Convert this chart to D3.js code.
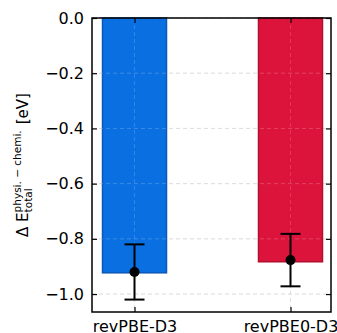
<!DOCTYPE html>
<html>
<head>
<meta charset="utf-8">
<script src="https://cdn.jsdelivr.net/npm/d3@7"></script>
<style>
  body { margin: 0; background: #fff; }
  text { font-family: "DejaVu Sans", sans-serif; }
</style>
</head>
<body>
<div id="vis"></div>
<script>
var margin = { top: 18, right: 6, bottom: 21, left: 92 },
    width = 337 - margin.left - margin.right,
    height = 333 - margin.top - margin.bottom;

const methods = ["revPBE-D3", "revPBE0-D3"];
const energies = [-0.923, -0.883];
const means = [-0.92, -0.877];
const errors = [0.10, 0.095];
const fills = ["#0a6fe0", "#dc143c"];
const edges = ["#0a58b8", "#b0102f"];
const yTicks = [0.0, -0.2, -0.4, -0.6, -0.8, -1.0];

const svg = d3.select("#vis")
    .append("svg")
    .attr("width", width + margin.left + margin.right)
    .attr("height", height + margin.top + margin.bottom)
    .append("g")
    .attr("transform", `translate(${margin.left}, ${margin.top})`);

const y = d3.scaleLinear().domain([-1.065, 0]).range([height, 0]);
const x = d3.scalePoint().domain(methods).range([42.5, 198.5]);
const barW = 64;

// grid
svg.selectAll("line.hgrid")
    .data(yTicks)
    .join("line")
    .attr("x1", 0).attr("x2", width)
    .attr("y1", d => y(d)).attr("y2", d => y(d))
    .style("stroke", "#cccccc")
    .style("stroke-dasharray", "4,3")
    .style("stroke-width", 0.8);

svg.selectAll("line.vgrid")
    .data(methods)
    .join("line")
    .attr("x1", d => x(d)).attr("x2", d => x(d))
    .attr("y1", 0).attr("y2", height)
    .style("stroke", "#cccccc")
    .style("stroke-dasharray", "4,3")
    .style("stroke-width", 0.8);

// bars
svg.selectAll("rect.bar")
    .data(methods)
    .join("rect")
    .attr("class", "bar")
    .attr("x", d => x(d) - barW / 2)
    .attr("y", y(0))
    .attr("width", barW)
    .attr("height", (d, i) => y(energies[i]) - y(0))
    .style("fill", (d, i) => fills[i])
    .style("stroke", (d, i) => edges[i])
    .style("stroke-width", 1.5);

// faint grid on top of bars
svg.selectAll("line.hgrid2")
    .data(yTicks)
    .join("line")
    .attr("x1", 0).attr("x2", width)
    .attr("y1", d => y(d)).attr("y2", d => y(d))
    .style("stroke", "rgba(255,255,255,0.25)")
    .style("stroke-dasharray", "4,3")
    .style("stroke-width", 0.8);

svg.selectAll("line.vgrid2")
    .data(methods)
    .join("line")
    .attr("x1", d => x(d)).attr("x2", d => x(d))
    .attr("y1", 0).attr("y2", height)
    .style("stroke", "rgba(255,255,255,0.2)")
    .style("stroke-dasharray", "4,3")
    .style("stroke-width", 0.8);

// error bars
const eb = svg.selectAll("g.err")
    .data(methods)
    .join("g")
    .attr("transform", d => `translate(${x(d)},0)`);

eb.append("line")
    .attr("y1", (d, i) => y(means[i] + errors[i]))
    .attr("y2", (d, i) => y(means[i] - errors[i]))
    .style("stroke", "black").style("stroke-width", 2);
eb.append("line")
    .attr("x1", -10).attr("x2", 10)
    .attr("y1", (d, i) => y(means[i] + errors[i]))
    .attr("y2", (d, i) => y(means[i] + errors[i]))
    .style("stroke", "black").style("stroke-width", 2);
eb.append("line")
    .attr("x1", -10).attr("x2", 10)
    .attr("y1", (d, i) => y(means[i] - errors[i]))
    .attr("y2", (d, i) => y(means[i] - errors[i]))
    .style("stroke", "black").style("stroke-width", 2);
eb.append("circle")
    .attr("cy", (d, i) => y(means[i]))
    .attr("r", 5)
    .style("fill", "black");

// axes with inward ticks
const fmt = d => d3.format(".1f")(d).replace("-", "\u2212");
const yLeft = svg.append("g")
    .call(d3.axisLeft(y).tickValues(yTicks).tickSizeInner(-5).tickSizeOuter(0).tickPadding(8).tickFormat(fmt));
const yRight = svg.append("g")
    .attr("transform", `translate(${width},0)`)
    .call(d3.axisRight(y).tickValues(yTicks).tickSizeInner(-5).tickSizeOuter(0).tickFormat(""));
const xBottom = svg.append("g")
    .attr("transform", `translate(0,${height})`)
    .call(d3.axisBottom(x).tickSizeInner(-5).tickSizeOuter(0).tickPadding(9));
const xTop = svg.append("g")
    .call(d3.axisTop(x).tickSizeInner(-5).tickSizeOuter(0).tickFormat(""));

[yLeft, yRight, xBottom, xTop].forEach(a => {
    a.select(".domain").remove();
    a.selectAll("line").style("stroke", "black").style("stroke-width", 1.2);
    a.selectAll("text").style("font-size", "16px").style("fill", "black")
        .style("font-family", "'DejaVu Sans', sans-serif");
});

svg.append("rect")
    .attr("width", width).attr("height", height)
    .style("fill", "none").style("stroke", "black").style("stroke-width", 1.5);

// y label
const lbl = svg.append("text")
    .attr("transform", `translate(${-64},${height / 2}) rotate(-90)`)
    .attr("text-anchor", "middle")
    .style("font-size", "15px")
    .style("fill", "black");
lbl.append("tspan").text("\u0394 E");
lbl.append("tspan").attr("dy", 4).style("font-size", "10.5px").text("total");
lbl.append("tspan").attr("dx", -24).attr("dy", -11).style("font-size", "10.5px").text("physi. \u2212 chemi.");
lbl.append("tspan").attr("dx", 6).attr("dy", 7).text("[eV]");
</script>
</body>
</html>
